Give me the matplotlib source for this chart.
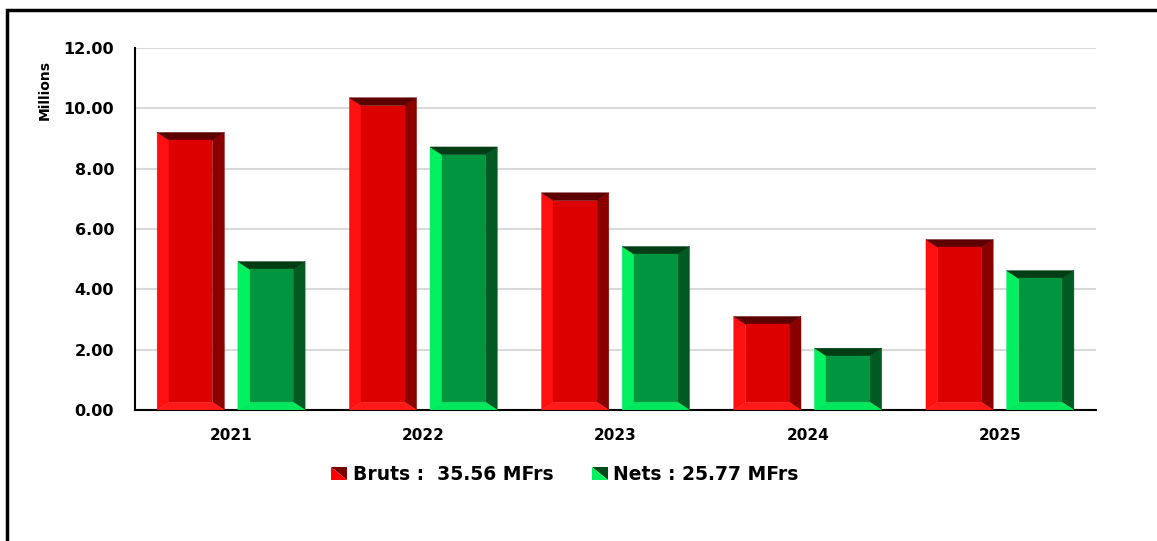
"""Bruts vs Nets by year, bevelled bar chart."""
import matplotlib
matplotlib.use("Agg")
import matplotlib.pyplot as plt
from matplotlib.patches import Polygon, Rectangle
from matplotlib.legend_handler import HandlerBase
from matplotlib.lines import Line2D

years = ["2021", "2022", "2023", "2024", "2025"]
bruts = [9.20, 10.35, 7.20, 3.10, 5.65]
nets = [4.92, 8.72, 5.42, 2.05, 4.62]
legend_labels = ["Bruts :  35.56 MFrs", "Nets : 25.77 MFrs"]

# face, left, right, top, bottom bevel colours
RED = dict(face="#DD0000", left="#FF1010", right="#8A0000", top="#5C0000", bottom="#FF1A1A")
GREEN = dict(face="#009640", left="#00F060", right="#005A22", top="#003D14", bottom="#00E85C")

fig = plt.figure(figsize=(11.57, 5.41), dpi=100)
ax = fig.add_axes([0.1167, 0.2421, 0.8306, 0.6692])

BW = 0.35
OFF = 0.21
BX = 0.062   # side bevel width (x units)
BY = 0.26    # top/bottom bevel height (y units)


def bevel_bar(x_center, h, pal):
    x0, x1 = x_center - BW / 2, x_center + BW / 2
    by = min(BY, h / 3)
    ix0, ix1 = x0 + BX, x1 - BX
    iy0, iy1 = by, h - by
    polys = [
        ([(x0, 0), (x0, h), (ix0, iy1), (ix0, iy0)], pal["left"]),
        ([(x1, 0), (x1, h), (ix1, iy1), (ix1, iy0)], pal["right"]),
        ([(x0, h), (x1, h), (ix1, iy1), (ix0, iy1)], pal["top"]),
        ([(x0, 0), (x1, 0), (ix1, iy0), (ix0, iy0)], pal["bottom"]),
        ([(ix0, iy0), (ix1, iy0), (ix1, iy1), (ix0, iy1)], pal["face"]),
    ]
    for pts, c in polys:
        ax.add_patch(Polygon(pts, closed=True, facecolor=c, edgecolor=c, lw=0.3, zorder=3))


for i, (b, n) in enumerate(zip(bruts, nets)):
    bevel_bar(i - OFF, b, RED)
    bevel_bar(i + OFF, n, GREEN)

ax.set_xlim(-0.5, len(years) - 0.5)
ax.set_ylim(0, 12)
ax.set_yticks(range(0, 13, 2))
ax.set_yticklabels([f"{v:.2f}" for v in range(0, 13, 2)], fontsize=11.5, fontweight="bold")
ax.set_xticks(range(len(years)))
ax.set_xticklabels(years, fontsize=11, fontweight="bold")
ax.tick_params(axis="both", length=0)
ax.tick_params(axis="y", pad=15)
ax.tick_params(axis="x", pad=13)
ax.grid(axis="y", color="#D9D9D9", lw=1.5, zorder=0)
ax.set_axisbelow(True)
for s in ("top", "right"):
    ax.spines[s].set_visible(False)
for s in ("left", "bottom"):
    ax.spines[s].set_color("black")
    ax.spines[s].set_linewidth(1.5)

# "Millions" sits near the top of the axis, not centred
fig.text(45 / 1157, 1 - 90 / 541, "Millions", rotation=90, ha="center", va="center",
         fontsize=10, fontweight="bold")


class DiagHandler(HandlerBase):
    """Legend key: square split on the TL-BR diagonal, dark half upper-right."""

    def __init__(self, dark, bright):
        super().__init__()
        self.dark, self.bright = dark, bright

    def create_artists(self, legend, orig_handle, xd, yd, w, h, fontsize, trans):
        sw, sh = h * 1.2, h * 0.95
        x0 = xd + w - sw
        y0 = yd + (h - sh) / 2
        up = Polygon([(x0, y0 + sh), (x0 + sw, y0 + sh), (x0 + sw, y0)], closed=True,
                     facecolor=self.dark, edgecolor="none", transform=trans)
        lo = Polygon([(x0, y0 + sh), (x0, y0), (x0 + sw, y0)], closed=True,
                     facecolor=self.bright, edgecolor="none", transform=trans)
        return [up, lo]


h_b, h_n = Line2D([], []), Line2D([], [])
fig.legend([h_b, h_n], legend_labels,
           handler_map={h_b: DiagHandler("#7A0000", "#FF0000"),
                        h_n: DiagHandler("#004A1C", "#00F060")},
           loc="center", bbox_to_anchor=(0.488, 0.123), ncol=2, frameon=False,
           prop=dict(size=13.5, weight="bold"), handlelength=0.9,
           handletextpad=0.3, columnspacing=2.0)

# outer frame (left and top edges visible, rest runs off the image)
fig.add_artist(Rectangle((7 / 1157, -0.1), 1.2, (541 - 10) / 541 + 0.1,
                         transform=fig.transFigure, fill=False,
                         edgecolor="black", lw=2.5))

fig.savefig("out.png", dpi=100)
